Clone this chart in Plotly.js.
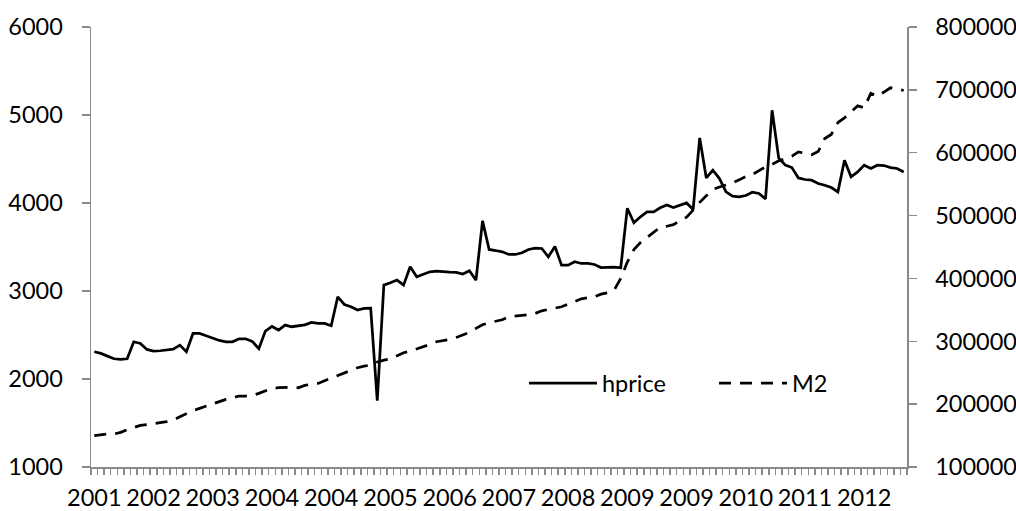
<!DOCTYPE html>
<html>
<head>
<meta charset="utf-8">
<script src="https://cdn.plot.ly/plotly-3.0.1.min.js"></script>
<style>
  html, body { margin: 0; padding: 0; background: #ffffff; }
  #chart { width: 1016px; height: 511px; }
</style>
</head>
<body>
<div id="chart"></div>
<script>
// ---- data ----
const hprice = [
  2310, 2291, 2260, 2230, 2223, 2230, 2423, 2404, 2336, 2317,
  2321, 2332, 2340, 2385, 2310, 2518, 2518, 2491, 2461, 2438,
  2423, 2423, 2457, 2457, 2427, 2344, 2544, 2597, 2556, 2613,
  2594, 2605, 2616, 2643, 2631, 2631, 2605, 2934, 2847, 2821,
  2783, 2802, 2805, 1753, 3067, 3093, 3124, 3067, 3275, 3161,
  3188, 3218, 3226, 3218, 3214, 3211, 3192, 3230, 3124, 3797,
  3472, 3460, 3445, 3415, 3415, 3434, 3472, 3487, 3483, 3389,
  3506, 3294, 3294, 3332, 3313, 3313, 3301, 3267, 3271, 3271,
  3264, 3941, 3775, 3843, 3899, 3899, 3945, 3977, 3949, 3975,
  4001, 3926, 4740, 4285, 4373, 4278, 4126, 4077, 4070, 4085,
  4123, 4108, 4047, 5054, 4513, 4430, 4403, 4285, 4267, 4259,
  4221, 4202, 4176, 4126, 4486, 4297, 4353, 4430, 4392, 4430,
  4426, 4403, 4392, 4353
];
const m2 = [
  149800, 151400, 152500, 152500, 155100, 159400, 163100, 166200, 167300, 168400,
  170500, 172100, 174700, 180000, 185300, 189600, 193300, 197000, 201200, 204900,
  207600, 210200, 212900, 212900, 213900, 217100, 221400, 225100, 226100, 226700,
  226700, 226100, 229800, 232000, 233000, 237300, 241500, 244700, 248900, 253200,
  257900, 260600, 262200, 266900, 270100, 271700, 277000, 281800, 284400, 287600,
  291300, 295000, 299300, 300800, 303000, 306100, 309900, 314100, 320500, 326300,
  329500, 332100, 334200, 339000, 340600, 341100, 342200, 344300, 348500, 350700,
  352200, 354900, 359100, 363400, 367600, 369200, 370800, 375000, 377200, 381400,
  400000, 426000, 446000, 457000, 465000, 474000, 481500, 483000, 485500, 491600,
  497500, 508600, 521000, 531500, 541500, 545500, 549000, 552000, 556800, 562000,
  565300, 571100, 577500, 581500, 587000, 590000, 594400, 601300, 598700, 596800,
  601800, 622500, 629000, 648000, 655500, 664500, 674500, 671500, 694500, 689800,
  696700, 703300, 701800, 699000
];
const tickLabels = ['2001','2002','2003','2004','2004','2005','2006','2007',
                    '2008','2009','2009','2010','2011','2012'];
const labelEvery = 9;
const seriesNames = ['hprice', 'M2'];

// ---- build ----
const xIdx = hprice.map((_, i) => i);
const tickVals = tickLabels.map((_, k) => k * labelEvery);

const FONT = 'Lato, "Open Sans", "Liberation Sans", sans-serif';
const FS = 23.5;
const AXIS_GREY = '#8a8a8a';

const traces = [
  {
    x: xIdx, y: hprice, name: seriesNames[0], type: 'scatter', mode: 'lines',
    line: { color: '#000000', width: 2.75 }, yaxis: 'y'
  },
  {
    x: xIdx, y: m2, name: seriesNames[1], type: 'scatter', mode: 'lines',
    line: { color: '#000000', width: 2.75, dash: '12px,9px' }, yaxis: 'y2'
  }
];

const layout = {
  width: 1016, height: 511,
  margin: { l: 91, r: 109, t: 27, b: 44 },
  paper_bgcolor: '#ffffff', plot_bgcolor: '#ffffff',
  font: { family: FONT, size: FS, color: '#000000' },
  showlegend: true,
  legend: {
    orientation: 'h', x: 0.5306, y: 0.19, xanchor: 'left', yanchor: 'middle',
    bgcolor: 'rgba(0,0,0,0)', font: { family: FONT, size: FS, color: '#000000' },
    itemwidth: 68, entrywidth: 107
  },
  xaxis: {
    range: [-0.5, hprice.length - 0.5],
    tickmode: 'array', tickvals: tickVals, ticktext: tickLabels,
    ticks: '', showgrid: false, zeroline: false,
    showline: true, linecolor: AXIS_GREY, linewidth: 1.5,
    ticklabelstandoff: 9,
    tickfont: { family: FONT, size: FS, color: '#000000' },
    minor: { tickmode: 'linear', tick0: -0.5, dtick: 1, ticks: 'outside',
             ticklen: 6, tickwidth: 1.5, tickcolor: AXIS_GREY, showgrid: false },
    fixedrange: true
  },
  yaxis: {
    range: [1000, 6000], dtick: 1000, tick0: 1000, tickformat: 'd',
    ticks: 'outside', ticklen: 8, tickwidth: 1.5, tickcolor: AXIS_GREY,
    showline: true, linecolor: AXIS_GREY, linewidth: 1.5,
    showgrid: false, zeroline: false, ticklabelstandoff: 14,
    tickfont: { family: FONT, size: FS, color: '#000000' },
    fixedrange: true
  },
  yaxis2: {
    range: [100000, 800000], dtick: 100000, tick0: 100000, tickformat: 'd',
    overlaying: 'y', side: 'right',
    ticks: 'outside', ticklen: 8, tickwidth: 1.5, tickcolor: AXIS_GREY,
    showline: true, linecolor: AXIS_GREY, linewidth: 1.5,
    showgrid: false, zeroline: false, ticklabelstandoff: 14,
    tickfont: { family: FONT, size: FS, color: '#000000' },
    fixedrange: true
  }
};

Plotly.newPlot('chart', traces, layout, { displayModeBar: false, staticPlot: true });
</script>
</body>
</html>
